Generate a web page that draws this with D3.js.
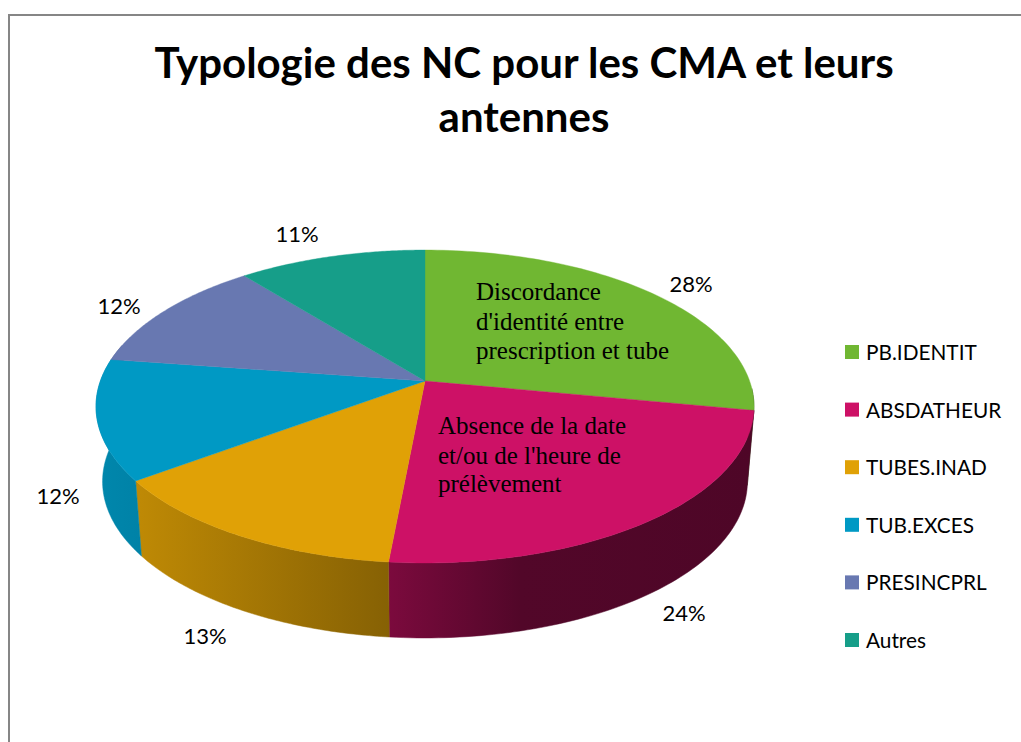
<!DOCTYPE html>
<html><head><meta charset="utf-8">
<script src="https://cdn.jsdelivr.net/npm/d3@7"></script>
<style>html,body{margin:0;padding:0;background:#fff;overflow:hidden}svg{display:block}</style>
</head><body><svg id="c" width="1021" height="742"></svg>
<script>
const titleLines = ["Typologie des NC pour les CMA et leurs", "antennes"];
const categories = ["PB.IDENTIT", "ABSDATHEUR", "TUBES.INAD", "TUB.EXCES", "PRESINCPRL", "Autres"];
const values = [28, 23.5, 13.4, 12.4, 11.9, 10.8];
const valueLabels = ["28%", "24%", "13%", "12%", "12%", "11%"];
const colors = ["#70b732", "#cd1166", "#e0a106", "#0099c4", "#6878b1", "#169e89"];
const noteIdentite = ["Discordance", "d'identité entre", "prescription et tube"];
const noteDate = ["Absence de la date", "et/ou de l'heure de", "prélèvement"];

const svg = d3.select("#c");
const defs = svg.append("defs");

// frame: top and left edges only
svg.append("path").attr("d", "M9,742V15H1021").attr("fill", "none").attr("stroke", "#868686").attr("stroke-width", 2);

// title
const title = svg.append("text").attr("text-anchor", "middle").attr("font-family", "Lato, Carlito, sans-serif")
  .attr("font-weight", 700).attr("font-size", 42).attr("fill", "#000");
titleLines.forEach((t, i) => title.append("tspan").attr("x", 524).attr("y", 78 + i * 54).text(t));

// perspective pie geometry
const cx = 425, cy = 381, R = 324.6, K = 152.3, persp = 0.163, depth = 75, shrink = 0.98;
const top3d = a => {
  const x = Math.sin(a), y = -Math.cos(a), w = 1 - persp * y;
  return [cx + R * x / w, cy + K * y / w];
};
const bottom3d = a => {
  const p = top3d(a);
  return [cx + (p[0] - cx) * shrink, p[1] + depth];
};
const arcs = d3.pie().sort(null).value(d => d)(values);
const line = d3.line();
const sample = (a0, a1, f) => d3.range(0, 81).map(i => f(a0 + (a1 - a0) * i / 80));

// side shading depends on horizontal position
const shadeX = d3.scaleLinear().domain([97, 140, 390, 520, 755]).range([0.88, 0.85, 0.6, 0.4, 0.38]);
colors.forEach((c, i) => {
  const g = defs.append("linearGradient").attr("id", "side" + i).attr("gradientUnits", "userSpaceOnUse")
    .attr("x1", 97).attr("x2", 755).attr("y1", 0).attr("y2", 0);
  shadeX.domain().forEach(x => {
    const b = d3.rgb(c), k = shadeX(x);
    g.append("stop").attr("offset", (x - 97) / (755 - 97))
      .attr("stop-color", d3.rgb(b.r * k, b.g * k, b.b * k).formatHex());
  });
});

// side walls, only the part of the rim that faces the viewer
const front0 = 1.62, front1 = 4.96;
const walls = svg.append("g");
arcs.forEach((d, i) => {
  const a0 = Math.max(d.startAngle, front0), a1 = Math.min(d.endAngle, front1);
  if (a1 <= a0) return;
  const pts = sample(a0, a1, top3d).concat(sample(a0, a1, bottom3d).reverse());
  walls.append("path").attr("d", line(pts) + "Z").attr("fill", `url(#side${i})`)
    .attr("stroke", `url(#side${i})`).attr("stroke-width", 0.5);
});

// top faces
const faces = svg.append("g");
arcs.forEach((d, i) => {
  const pts = [[cx, cy]].concat(sample(d.startAngle, d.endAngle, top3d));
  faces.append("path").attr("d", line(pts) + "Z").attr("fill", colors[i]).attr("stroke", colors[i]).attr("stroke-width", 0.4);
});

// value labels
const labelPos = [[691, 292], [684, 621], [205, 644], [58, 504], [119, 314], [297, 242]];
svg.append("g").selectAll("text").data(valueLabels).join("text")
  .attr("x", (d, i) => labelPos[i][0]).attr("y", (d, i) => labelPos[i][1])
  .attr("text-anchor", "middle").attr("font-family", "Lato, Carlito, sans-serif").attr("font-size", 22).attr("fill", "#000")
  .text(d => d);

// annotations
const note = (lines, x, ys) => svg.append("g").selectAll("text").data(lines).join("text")
  .attr("x", x).attr("y", (d, i) => ys[i]).attr("font-family", "'Liberation Serif', serif").attr("font-size", 25).attr("fill", "#000").text(d => d);
note(noteIdentite, 476, [300, 330, 359]);
note(noteDate, 438, [434, 464, 492]);

// legend
const legY = d3.scalePoint().domain(categories).range([352, 640]);
const leg = svg.append("g").selectAll("g").data(categories).join("g").attr("transform", d => `translate(845,${legY(d)})`);
leg.append("rect").attr("x", 0).attr("y", -7).attr("width", 14).attr("height", 14).attr("fill", (d, i) => colors[i]);
leg.append("text").attr("x", 21).attr("y", 8).attr("font-family", "Lato, Carlito, sans-serif").attr("font-size", 20.8).attr("fill", "#000").text(d => d);
</script></body></html>
